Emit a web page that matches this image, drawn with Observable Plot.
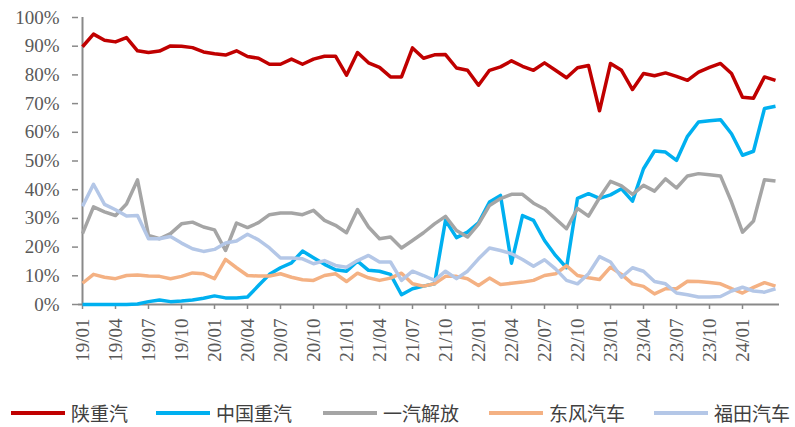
<!DOCTYPE html>
<html><head><meta charset="utf-8">
<script src="https://cdn.jsdelivr.net/npm/d3@7"></script>
<script src="https://cdn.jsdelivr.net/npm/@observablehq/plot@0.6"></script>
<style>
body{margin:0;background:#fff;width:795px}
#chart svg{display:block}
#legend{position:relative;height:37px;width:795px}
.item{position:absolute;top:9px;display:flex;align-items:center}
.sw{width:54px;height:4px;margin-right:6px}
.lab{font-family:"Noto Sans CJK SC",sans-serif;font-size:19px;color:#404040;line-height:normal}
</style></head><body><div id="chart"></div><div id="legend"></div>
<script>
const months = ["19/01","19/02","19/03","19/04","19/05","19/06","19/07","19/08","19/09","19/10","19/11","19/12",
"20/01","20/02","20/03","20/04","20/05","20/06","20/07","20/08","20/09","20/10","20/11","20/12",
"21/01","21/02","21/03","21/04","21/05","21/06","21/07","21/08","21/09","21/10","21/11","21/12",
"22/01","22/02","22/03","22/04","22/05","22/06","22/07","22/08","22/09","22/10","22/11","22/12",
"23/01","23/02","23/03","23/04","23/05","23/06","23/07","23/08","23/09","23/10","23/11","23/12",
"24/01","24/02","24/03","24/04"];
const xTicks = ["19/01","19/04","19/07","19/10","20/01","20/04","20/07","20/10","21/01","21/04","21/07","21/10",
"22/01","22/04","22/07","22/10","23/01","23/04","23/07","23/10","24/01"];
const yTicks = [0,10,20,30,40,50,60,70,80,90,100];

const seriesNames = ["陕重汽","中国重汽","一汽解放","东风汽车","福田汽车"];
const seriesColors = ["#C00000","#00B0F0","#A5A5A5","#F4B183","#B4C7E7"];

const shaanxi = [89.8,94.2,92.1,91.5,93.0,88.4,87.8,88.3,90.1,90.0,89.5,88.0,
87.4,86.9,88.4,86.4,85.8,83.7,83.7,85.5,83.7,85.5,86.5,86.5,
79.9,87.8,84.2,82.6,79.3,79.3,89.4,85.8,87.0,87.1,82.4,81.6,
76.4,81.6,82.8,84.9,83.0,81.6,84.2,81.6,79.0,82.5,83.3,67.5,
84.0,81.6,74.9,80.5,79.7,80.7,79.5,78.1,81.0,82.6,84.0,80.5,
72.2,71.9,79.3,78.1];
const sinotruk = [0,0,0,0,0,0.2,1.0,1.6,1.0,1.2,1.6,2.2,
3.0,2.3,2.3,2.6,6.6,10.5,12.8,14.5,18.6,16.3,14.0,12.1,
11.6,15.1,11.9,11.6,10.5,3.4,5.5,6.4,7.2,29.3,23.3,25.2,
28.5,35.7,38.0,14.4,31.0,29.3,22.3,17.1,12.8,37.0,38.6,37.0,
38.2,40.3,36.0,47.3,53.5,53.1,50.2,58.6,63.6,64.0,64.4,59.5,
52.0,53.4,68.3,69.1];
const faw = [24.7,34.0,32.3,31.0,35.0,43.4,24.1,22.9,24.7,28.1,28.7,27.0,
26.0,18.8,28.4,26.8,28.5,31.3,31.9,31.9,31.3,32.8,29.3,27.6,
25.0,33.1,27.0,22.9,23.5,19.7,22.3,25.0,28.1,30.7,25.8,23.5,
28.0,34.5,36.9,38.4,38.4,35.3,33.3,29.9,26.4,33.5,30.8,37.2,
42.9,41.3,38.4,41.5,39.5,43.8,40.6,44.8,45.6,45.2,44.8,35.7,
25.2,29.1,43.5,43.0];
const dongfeng = [7.4,10.5,9.5,9.0,10.1,10.3,9.9,9.8,9.0,9.8,11.0,10.7,
9.0,15.7,12.8,10.1,9.9,9.9,10.7,9.5,8.6,8.4,10.1,10.7,
8.0,10.9,9.3,8.4,9.2,10.9,7.2,6.4,7.2,9.8,9.8,9.0,
6.6,9.2,7.0,7.4,7.8,8.4,10.1,10.7,13.5,10.1,9.3,8.7,
13.0,10.5,7.2,6.3,3.7,5.5,5.5,8.1,8.0,7.7,7.2,5.5,
4.0,6.0,7.6,6.4];
const foton = [34.2,41.9,34.9,33.0,30.8,31.0,22.9,22.9,23.7,21.4,19.4,18.5,
19.2,21.4,22.1,24.5,22.5,19.7,16.2,16.2,15.9,14.2,15.3,13.6,
13.0,15.3,17.1,14.8,14.8,8.4,11.6,10.1,8.4,11.6,9.0,11.6,
15.9,19.7,18.8,17.7,15.7,13.3,15.6,12.4,8.4,7.2,10.7,16.7,
14.8,9.5,12.8,11.6,8.0,7.2,4.0,3.4,2.6,2.6,2.8,4.7,
6.0,4.7,4.3,5.5];

const seriesValues = [shaanxi, sinotruk, faw, dongfeng, foton];
const data = [];
seriesNames.forEach((name, s) => {
  seriesValues[s].forEach((v, i) => data.push({month: months[i], value: v, series: name}));
});

const axisFont = '"Liberation Serif", "Times New Roman", serif';
const chart = Plot.plot({
  width: 795, height: 390,
  marginLeft: 78, marginRight: 16, marginTop: 17, marginBottom: 86,
  style: {fontFamily: axisFont, fontSize: "19px", color: "#595959", background: "#fff"},
  x: {type: "point", domain: months, padding: 0, label: null},
  y: {domain: [0, 100], label: null},
  color: {domain: seriesNames, range: seriesColors},
  marks: [
    Plot.axisY({ticks: yTicks, tickFormat: d => d + "%", tickSize: 6, tickPadding: 13,
      stroke: "#898989", strokeWidth: 1.5, fill: "#595959", fontSize: 19}),
    Plot.axisX({ticks: xTicks, tickRotate: -90, tickSize: 5, tickPadding: 9,
      stroke: "#898989", strokeWidth: 1.5, fill: "#595959", fontSize: 19}),
    Plot.ruleX([months[0]], {stroke: "#898989", strokeWidth: 2}),
    Plot.ruleY([0], {stroke: "#898989", strokeWidth: 2}),
    Plot.line(data, {x: "month", y: "value", z: "series", stroke: "series",
      strokeWidth: 3.5, strokeLinejoin: "round", strokeLinecap: "butt"})
  ]
});
document.getElementById("chart").appendChild(chart);

const legendLeft = [11, 156, 323, 489, 654];
const legend = document.getElementById("legend");
seriesNames.forEach((name, i) => {
  const it = document.createElement("div");
  it.className = "item";
  it.style.left = legendLeft[i] + "px";
  const sw = document.createElement("div");
  sw.className = "sw";
  sw.style.background = seriesColors[i];
  const lab = document.createElement("span");
  lab.className = "lab";
  lab.textContent = name;
  it.appendChild(sw); it.appendChild(lab);
  legend.appendChild(it);
});
</script></body></html>
